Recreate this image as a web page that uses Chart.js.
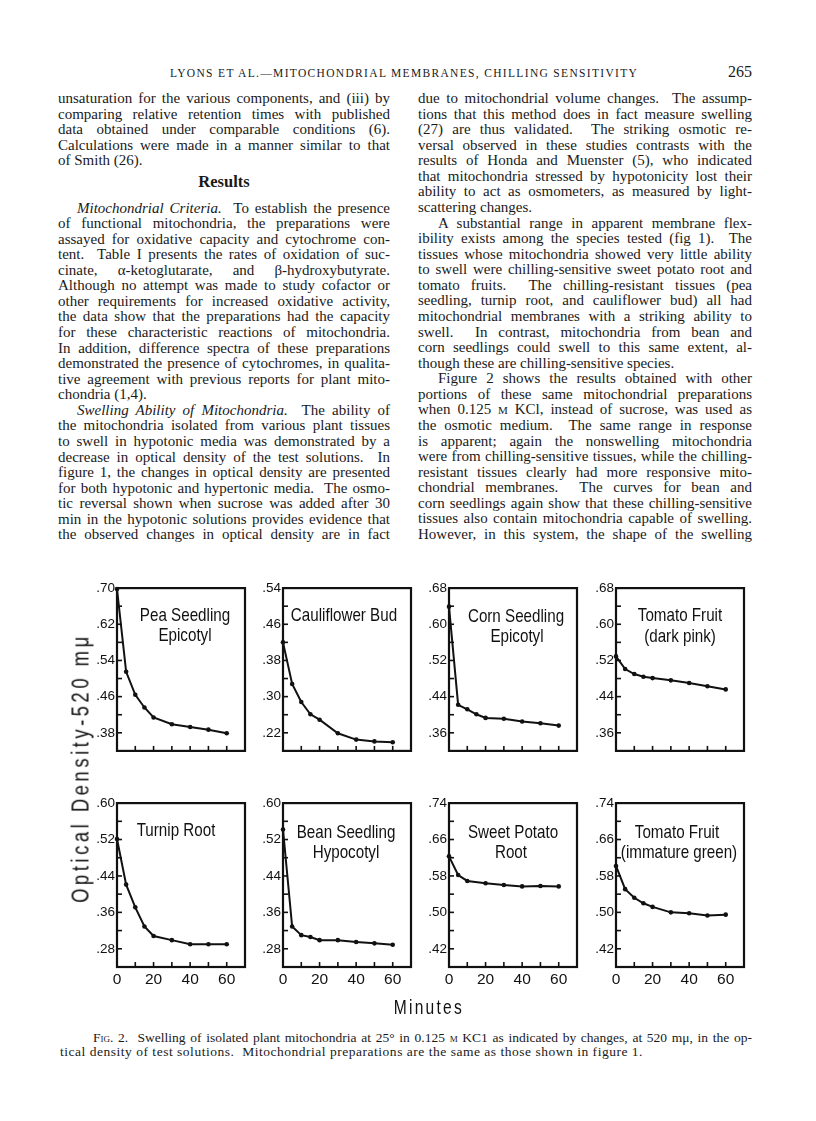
<!DOCTYPE html>
<html><head><meta charset="utf-8">
<script src="https://cdn.jsdelivr.net/npm/chart.js@4.4.1/dist/chart.umd.min.js"></script>
<style>
html,body{margin:0;padding:0;background:#fff;}
body{width:816px;height:1121px;position:relative;overflow:hidden;font-family:"Liberation Serif","Times New Roman",serif;color:#1a1a1a;}
.ln{position:absolute;white-space:nowrap;font-size:15px;line-height:19px;height:19px;}
.cap{font-size:13.5px;}
.j{text-align:justify;text-align-last:justify;}
.sc{font-variant:small-caps;}
.sans{font-family:"Liberation Sans","Arial",sans-serif;color:#111;}
.ptitle{position:absolute;font-size:18.5px;line-height:18px;white-space:nowrap;transform:translate(-50%,-50%) scaleX(0.82);}
canvas{position:absolute;}
</style></head><body>
<script>
// ---------------- chart data ----------------
const minutes = [0, 5, 10, 15, 20, 30, 40, 50, 60];
const minutesSweetPotato = [0, 5, 10, 20, 30, 40, 50, 60];
const xTickLabels = [0, 20, 40, 60];

const peaSeedling      = [0.698, 0.515, 0.464, 0.436, 0.414, 0.399, 0.393, 0.387, 0.379];
const cauliflowerBud   = [0.420, 0.328, 0.288, 0.261, 0.249, 0.219, 0.205, 0.201, 0.199];
const cornSeedling     = [0.639, 0.422, 0.412, 0.401, 0.393, 0.391, 0.385, 0.381, 0.376];
const tomatoDarkPink   = [0.529, 0.501, 0.490, 0.484, 0.481, 0.476, 0.470, 0.463, 0.456];
const turnipRoot       = [0.521, 0.421, 0.371, 0.329, 0.308, 0.299, 0.290, 0.290, 0.290];
const beanSeedling     = [0.542, 0.329, 0.310, 0.306, 0.299, 0.299, 0.295, 0.292, 0.289];
const sweetPotatoRoot  = [0.623, 0.582, 0.569, 0.564, 0.560, 0.557, 0.558, 0.557];
const tomatoImmature   = [0.602, 0.551, 0.532, 0.520, 0.512, 0.500, 0.498, 0.493, 0.495];

const peaYLabels    = [0.38, 0.46, 0.54, 0.62, 0.70];
const caulYLabels   = [0.22, 0.30, 0.38, 0.46, 0.54];
const cornYLabels   = [0.36, 0.44, 0.52, 0.60, 0.68];
const tomPinkYLabels= [0.36, 0.44, 0.52, 0.60, 0.68];
const turnipYLabels = [0.28, 0.36, 0.44, 0.52, 0.60];
const beanYLabels   = [0.28, 0.36, 0.44, 0.52, 0.60];
const sweetYLabels  = [0.42, 0.50, 0.58, 0.66, 0.74];
const tomImmYLabels = [0.42, 0.50, 0.58, 0.66, 0.74];

const panelTitles = [
  ['Pea Seedling', 'Epicotyl'], ['Cauliflower Bud'], ['Corn Seedling', 'Epicotyl'], ['Tomato Fruit', '(dark pink)'],
  ['Turnip Root'], ['Bean Seedling', 'Hypocotyl'], ['Sweet Potato', 'Root'], ['Tomato Fruit', '(immature green)']
];
// ---------------------------------------------

const page = document.body;

function addLine(html, left, yc, width, justify, extraCls, fitNatural){
  const d = document.createElement('div');
  d.className = 'ln' + (extraCls ? ' ' + extraCls : '');
  d.style.left = left + 'px';
  d.style.top = (yc - 11) + 'px';
  d.style.width = width + 'px';
  d.innerHTML = '<span>' + html + '</span>';
  page.appendChild(d);
  const sp = d.firstChild;
  const nat = sp.getBoundingClientRect().width;
  const n = d.textContent.length;
  if (fitNatural) {
    d.style.letterSpacing = ((fitNatural - nat) / n) + 'px';
  } else if (nat > width) {
    d.style.letterSpacing = ((width - nat) / n) + 'px';
  }
  if (justify) d.classList.add('j');
  return d;
}

// header
(function(){
  const h = document.createElement('div');
  h.style.cssText = 'position:absolute;left:170px;top:65px;font-size:11.5px;line-height:16px;white-space:nowrap;';
  h.textContent = 'LYONS ET AL.\u2014MITOCHONDRIAL MEMBRANES, CHILLING SENSITIVITY';
  page.appendChild(h);
  const w = h.offsetWidth, n = h.textContent.length;
  h.style.letterSpacing = ((468 - w) / n) + 'px';
  const p = document.createElement('div');
  p.style.cssText = 'position:absolute;left:728px;top:63px;font-size:16px;line-height:18px;';
  p.textContent = '265';
  page.appendChild(p);
})();

const STEP = 15.57;
const leftCol = {x: 58, w: 332, ind: 19};
const rightCol = {x: 418, w: 334, ind: 20};

const leftTop = [
  ['unsaturation for the various components, and (iii) by', 1],
  ['comparing relative retention times with published', 1],
  ['data obtained under comparable conditions (6).', 1],
  ['Calculations were made in a manner similar to that', 1],
  ['of Smith (26).', 0]
];
leftTop.forEach((l, i) => addLine(l[0], leftCol.x, 100 + i * STEP, leftCol.w, l[1]));

(function(){
  const r = document.createElement('div');
  r.style.cssText = 'position:absolute;left:' + leftCol.x + 'px;width:' + leftCol.w + 'px;top:172px;text-align:center;font-weight:bold;font-size:16.5px;line-height:20px;';
  r.textContent = 'Results';
  page.appendChild(r);
})();

const leftMain = [
  ['<i>Mitochondrial Criteria.</i>&nbsp; To establish the presence', 1, 1],
  ['of functional mitochondria, the preparations were', 1],
  ['assayed for oxidative capacity and cytochrome con-', 1],
  ['tent.&nbsp; Table I presents the rates of oxidation of suc-', 1],
  ['cinate, \u03b1-ketoglutarate, and \u03b2-hydroxybutyrate.', 1],
  ['Although no attempt was made to study cofactor or', 1],
  ['other requirements for increased oxidative activity,', 1],
  ['the data show that the preparations had the capacity', 1],
  ['for these characteristic reactions of mitochondria.', 1],
  ['In addition, difference spectra of these preparations', 1],
  ['demonstrated the presence of cytochromes, in qualita-', 1],
  ['tive agreement with previous reports for plant mito-', 1],
  ['chondria (1,4).', 0],
  ['<i>Swelling Ability of Mitochondria.</i>&nbsp; The ability of', 1, 1],
  ['the mitochondria isolated from various plant tissues', 1],
  ['to swell in hypotonic media was demonstrated by a', 1],
  ['decrease in optical density of the test solutions.&nbsp; In', 1],
  ['figure 1, the changes in optical density are presented', 1],
  ['for both hypotonic and hypertonic media.&nbsp; The osmo-', 1],
  ['tic reversal shown when sucrose was added after 30', 1],
  ['min in the hypotonic solutions provides evidence that', 1],
  ['the observed changes in optical density are in fact', 1]
];
leftMain.forEach((l, i) => {
  const ind = l[2] ? leftCol.ind : 0;
  addLine(l[0], leftCol.x + ind, 209.5 + i * STEP, leftCol.w - ind, l[1]);
});

const rightLines = [
  ['due to mitochondrial volume changes.&nbsp; The assump-', 1],
  ['tions that this method does in fact measure swelling', 1],
  ['(27) are thus validated.&nbsp; The striking osmotic re-', 1],
  ['versal observed in these studies contrasts with the', 1],
  ['results of Honda and Muenster (5), who indicated', 1],
  ['that mitochondria stressed by hypotonicity lost their', 1],
  ['ability to act as osmometers, as measured by light-', 1],
  ['scattering changes.', 0],
  ['A substantial range in apparent membrane flex-', 1, 1],
  ['ibility exists among the species tested (fig 1).&nbsp; The', 1],
  ['tissues whose mitochondria showed very little ability', 1],
  ['to swell were chilling-sensitive sweet potato root and', 1],
  ['tomato fruits.&nbsp; The chilling-resistant tissues (pea', 1],
  ['seedling, turnip root, and cauliflower bud) all had', 1],
  ['mitochondrial membranes with a striking ability to', 1],
  ['swell.&nbsp; In contrast, mitochondria from bean and', 1],
  ['corn seedlings could swell to this same extent, al-', 1],
  ['though these are chilling-sensitive species.', 0],
  ['Figure 2 shows the results obtained with other', 1, 1],
  ['portions of these same mitochondrial preparations', 1],
  ['when 0.125 <span class="sc">m</span> KCl, instead of sucrose, was used as', 1],
  ['the osmotic medium.&nbsp; The same range in response', 1],
  ['is apparent; again the nonswelling mitochondria', 1],
  ['were from chilling-sensitive tissues, while the chilling-', 1],
  ['resistant tissues clearly had more responsive mito-', 1],
  ['chondrial membranes.&nbsp; The curves for bean and', 1],
  ['corn seedlings again show that these chilling-sensitive', 1],
  ['tissues also contain mitochondria capable of swelling.', 1],
  ['However, in this system, the shape of the swelling', 1]
];
rightLines.forEach((l, i) => {
  const ind = l[2] ? rightCol.ind : 0;
  addLine(l[0], rightCol.x + ind, 100 + i * STEP, rightCol.w - ind, l[1]);
});

// caption
addLine('<span class="sc">Fig.</span> 2.&nbsp; Swelling of isolated plant mitochondria at 25\u00b0 in 0.125 <span class="sc">m</span> KC1 as indicated by changes, at 520 m\u03bc, in the op-', 93, 1039, 659, 1, 'cap');
addLine('tical density of test solutions.&nbsp; Mitochondrial preparations are the same as those shown in figure 1.', 60, 1053, 692, 0, 'cap', 583);

// ---------------- charts ----------------
Chart.defaults.font.family = '"Liberation Sans","Arial",sans-serif';
Chart.defaults.color = '#111';

const framePlugin = {
  id: 'frame',
  afterDatasetsDraw(chart){
    const {ctx, chartArea: a, scales: {x, y}} = chart;
    ctx.save();
    ctx.strokeStyle = '#111';
    ctx.lineWidth = 1.6;
    x.ticks.forEach(t => { const px = x.getPixelForValue(t.value); ctx.beginPath(); ctx.moveTo(px, a.bottom); ctx.lineTo(px, a.bottom - 5); ctx.stroke(); });
    y.ticks.forEach(t => { const py = y.getPixelForValue(t.value); ctx.beginPath(); ctx.moveTo(a.left, py); ctx.lineTo(a.left + 5, py); ctx.stroke(); });
    ctx.lineWidth = 2.2;
    ctx.strokeRect(a.left, a.top, a.right - a.left, a.bottom - a.top);
    ctx.restore();
  }
};

const colLeft = [117, 283, 449, 616];
const BOXW = 128;
const rowTop = [588, 803];
const rowH = [169, 164];

const panels = [
  {x: minutes, y: peaSeedling, lab: peaYLabels, min: 0.34, max: 0.70, r: 0, c: 0, t: [[184.5, 615], [185, 634.5]]},
  {x: minutes, y: cauliflowerBud, lab: caulYLabels, min: 0.18, max: 0.54, r: 0, c: 1, t: [[344, 615]]},
  {x: minutes, y: cornSeedling, lab: cornYLabels, min: 0.32, max: 0.68, r: 0, c: 2, t: [[516, 616], [517, 635.5]]},
  {x: minutes, y: tomatoDarkPink, lab: tomPinkYLabels, min: 0.32, max: 0.68, r: 0, c: 3, t: [[680, 615], [680, 635.5]]},
  {x: minutes, y: turnipRoot, lab: turnipYLabels, min: 0.24, max: 0.60, r: 1, c: 0, t: [[176, 830]]},
  {x: minutes, y: beanSeedling, lab: beanYLabels, min: 0.24, max: 0.60, r: 1, c: 1, t: [[346, 832], [346, 852]]},
  {x: minutesSweetPotato, y: sweetPotatoRoot, lab: sweetYLabels, min: 0.38, max: 0.74, r: 1, c: 2, t: [[513, 832], [511, 852]]},
  {x: minutes, y: tomatoImmature, lab: tomImmYLabels, min: 0.38, max: 0.74, r: 1, c: 3, t: [[677, 832], [679, 852]]}
];

panels.forEach((p, idx) => {
  const padT = 10, padR = 6, yW = 40;
  const xH = p.r === 1 ? 26 : 0, padB = p.r === 1 ? 0 : 4;
  const W = BOXW + yW + padR, H = rowH[p.r] + padT + xH + padB;
  const cv = document.createElement('canvas');
  cv.width = W; cv.height = H;
  cv.style.left = (colLeft[p.c] - yW) + 'px';
  cv.style.top = (rowTop[p.r] - padT) + 'px';
  cv.style.width = W + 'px'; cv.style.height = H + 'px';
  page.appendChild(cv);
  new Chart(cv, {
    type: 'line',
    data: {datasets: [{
      data: p.x.map((m, i) => ({x: m, y: p.y[i]})),
      borderColor: '#111', borderWidth: 2, tension: 0, fill: false, clip: false,
      pointRadius: 2.3, pointBackgroundColor: '#111', pointBorderWidth: 0
    }]},
    options: {
      responsive: false, animation: false, devicePixelRatio: 1,
      layout: {padding: {top: padT, right: padR, bottom: padB, left: 0}},
      plugins: {legend: {display: false}, tooltip: {enabled: false}, title: {display: false}},
      scales: {
        x: {type: 'linear', min: 0, max: 70,
            grid: {display: false, drawTicks: false}, border: {display: false},
            ticks: {display: p.r === 1, stepSize: 10, autoSkip: false, maxRotation: 0, padding: 3,
                    font: {size: 15.5}, callback: v => xTickLabels.includes(v) ? String(v) : ''},
            afterFit: s => { s.height = xH; }},
        y: {type: 'linear', min: p.min, max: p.max,
            grid: {display: false, drawTicks: false}, border: {display: false},
            ticks: {stepSize: 0.04, autoSkip: false, padding: 2, font: {size: 13.5},
                    callback: v => p.lab.some(l => Math.abs(l - v) < 1e-6) ? v.toFixed(2).replace(/^0/, '') : ''},
            afterFit: s => { s.width = yW; }}
      }
    },
    plugins: [framePlugin]
  });
  panelTitles[idx].forEach((txt, k) => {
    const d = document.createElement('div');
    d.className = 'ptitle sans';
    d.style.left = p.t[k][0] + 'px';
    d.style.top = p.t[k][1] + 'px';
    d.textContent = txt;
    page.appendChild(d);
  });
});

// axis titles
(function(){
  const SX = 0.8;
  const yt = document.createElement('div');
  yt.className = 'sans';
  yt.style.cssText += 'position:absolute;font-size:23px;line-height:24px;white-space:nowrap;';
  yt.innerHTML = 'Optical Density-520 m\u03bc';
  page.appendChild(yt);
  const w0 = yt.offsetWidth, n = yt.textContent.length;
  yt.style.letterSpacing = ((270 / SX - w0) / n) + 'px';
  const w = yt.offsetWidth;
  yt.style.left = (80 - w / 2) + 'px';
  yt.style.top = (768 - 12) + 'px';
  yt.style.transform = 'rotate(-90deg) scaleX(' + SX + ')';

  const mt = document.createElement('div');
  mt.className = 'sans';
  mt.style.cssText += 'position:absolute;font-size:19.5px;line-height:22px;white-space:nowrap;';
  mt.textContent = 'Minutes';
  page.appendChild(mt);
  const m0 = mt.offsetWidth;
  mt.style.letterSpacing = ((70 / SX - m0) / 7) + 'px';
  const mw = mt.offsetWidth;
  mt.style.left = (428 - mw / 2 + 1) + 'px';
  mt.style.top = (1007 - 11) + 'px';
  mt.style.transform = 'scaleX(' + SX + ')';
})();
</script>
</body></html>
